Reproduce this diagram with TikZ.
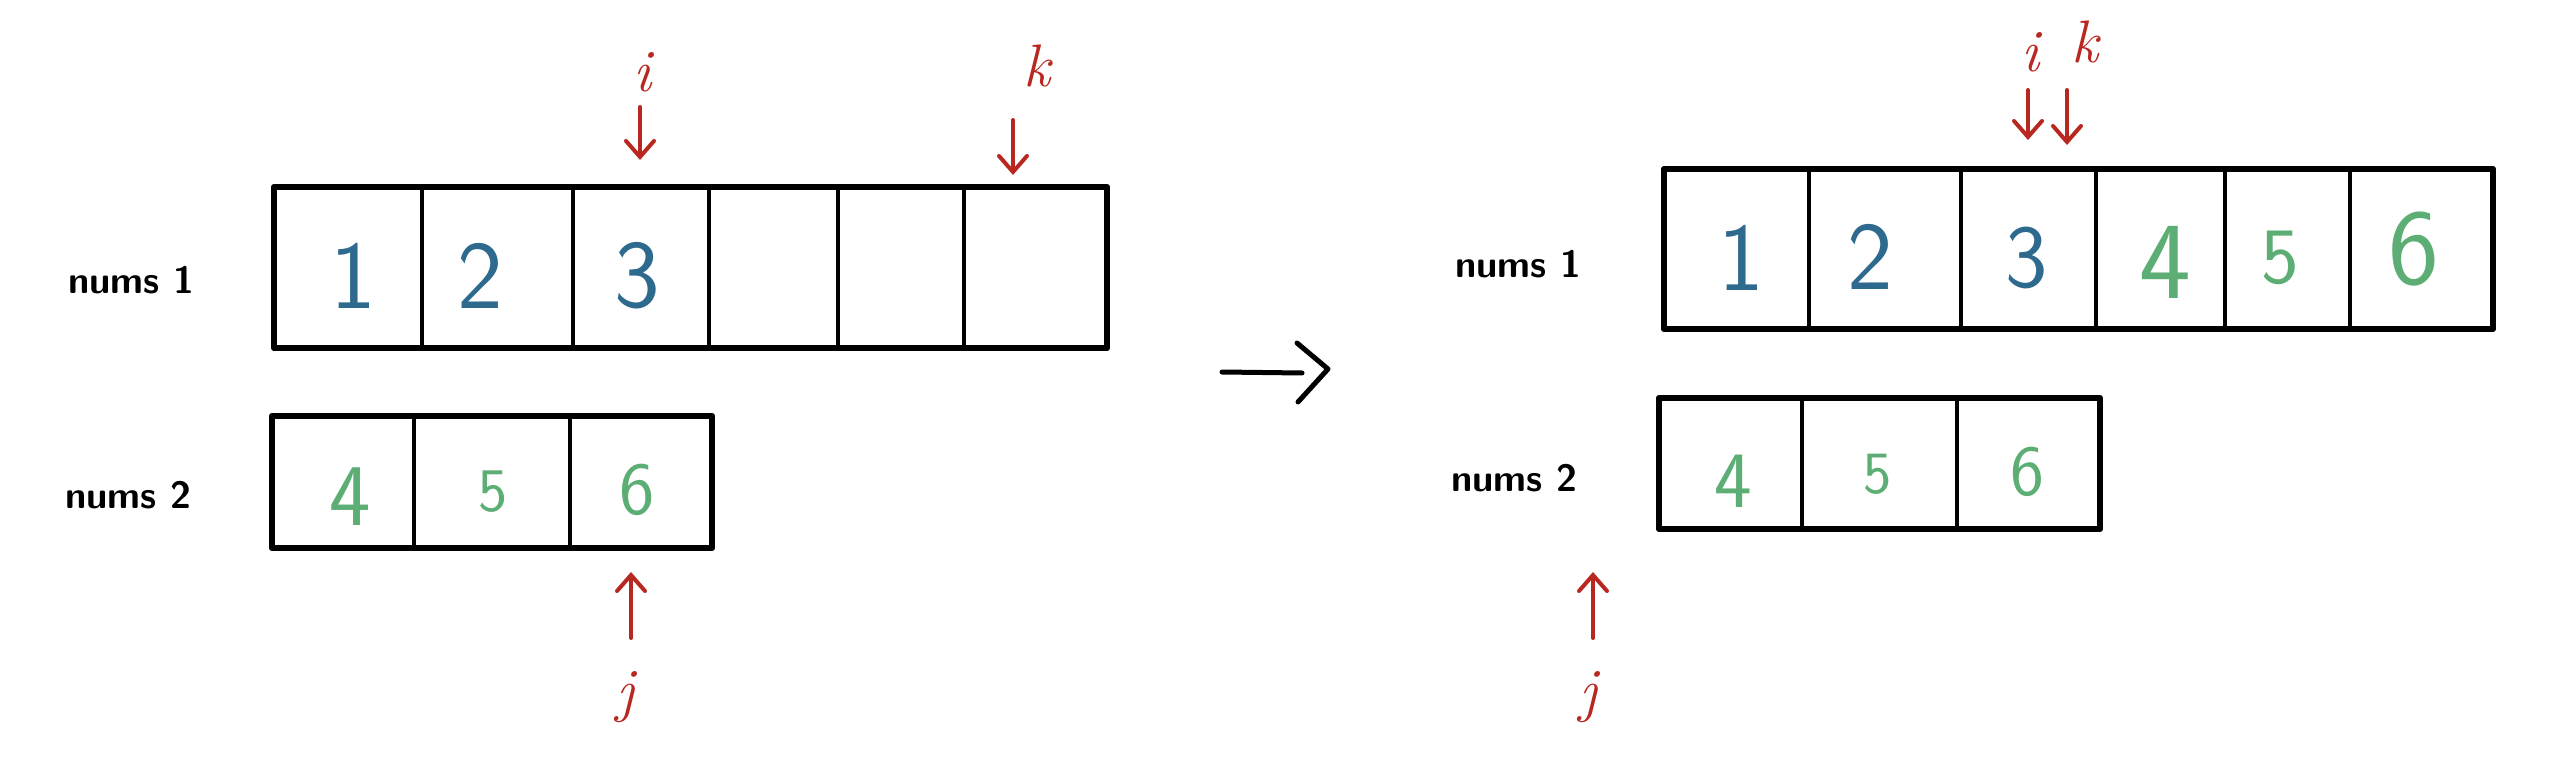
\documentclass[tikz,border=0pt]{standalone}
\usepackage{fontspec}
\usetikzlibrary{arrows.meta}
\definecolor{numblue}{HTML}{2D6A8E}
\definecolor{numgreen}{HTML}{5DAE74}
\definecolor{ptrred}{HTML}{B82720}
\newcommand{\dsz}[1]{\sffamily\fontsize{#1}{#1}\selectfont}
\begin{document}
\begin{tikzpicture}[x=1pt,y=-1pt,
  cell/.style={draw, line width=4pt, inner sep=0pt, outer sep=0pt, anchor=north west},
  frame/.style={draw, line width=6.5pt, line join=round},
  dig/.style={inner sep=0pt},
  lbl/.style={anchor=base west, inner sep=0pt, font=\sffamily\bfseries\fontsize{38}{40}\selectfont},
  ptrlbl/.style={inner sep=0pt, text=ptrred, font=\itshape\fontsize{60}{60}\selectfont},
  ptr/.style={draw=ptrred, line width=4pt, line cap=round, -{Straight Barb[length=16pt,width=28pt,line cap=round]}},
  bigarrow/.style={draw, line width=5pt, line cap=round, line join=round}]
\useasboundingbox (0,0) rectangle (2560,762);

% ---------- left: nums1 ----------
\node[lbl] (Ln1) at (68,293) {nums 1};
\node[cell, minimum width=148pt, minimum height=161pt] (A1) at (274,187) {};
\node[cell, minimum width=151pt, minimum height=161pt] (A2) at (422,187) {};
\node[cell, minimum width=136pt, minimum height=161pt] (A3) at (573,187) {};
\node[cell, minimum width=129pt, minimum height=161pt] (A4) at (709,187) {};
\node[cell, minimum width=126pt, minimum height=161pt] (A5) at (838,187) {};
\node[cell, minimum width=143pt, minimum height=161pt] (A6) at (964,187) {};
\draw[frame] (A1.north west) rectangle (A6.south east);
\node[dig, text=numblue, font={\dsz{97}}] (a1) at (353,276) {1};
\node[dig, text=numblue, font={\dsz{97}}] (a2) at (480,276) {2};
\node[dig, text=numblue, font={\dsz{97}}] (a3) at (637,276) {3};

% ---------- left: nums2 ----------
\node[lbl] (Ln2) at (65,508) {nums 2};
\node[cell, minimum width=142pt, minimum height=132pt] (B1) at (272,416) {};
\node[cell, minimum width=156pt, minimum height=132pt] (B2) at (414,416) {};
\node[cell, minimum width=142pt, minimum height=132pt] (B3) at (570,416) {};
\draw[frame] (B1.north west) rectangle (B3.south east);
\node[dig, text=numgreen, font={\dsz{88}}] (b1) at (350,497) {4};
\node[dig, text=numgreen, font={\dsz{62}}] (b2) at (493,492) {5};
\node[dig, text=numgreen, font={\dsz{75}}] (b3) at (637,490) {6};

% ---------- left pointers ----------
\node[ptrlbl] (Li) at (642,72) {i};
\node[ptrlbl] (Lk) at (1037,66) {k};
\node[ptrlbl] (Lj) at (625,697) {j};
\coordinate (Lia) at (640,107);
\coordinate (Lib) at (640,160);
\coordinate (Lka) at (1013,120);
\coordinate (Lkb) at (1013,175);
\coordinate (Lja) at (631,638);
\coordinate (Ljb) at (631,572);
\draw[ptr] (Lia) -- (Lib);
\draw[ptr] (Lka) -- (Lkb);
\draw[ptr] (Lja) -- (Ljb);

% ---------- middle arrow ----------
\coordinate (Ma) at (1222,372);
\coordinate (Mb) at (1302,373);
\coordinate (Mc) at (1297,343);
\coordinate (Md) at (1328,369);
\coordinate (Me) at (1298,402);
\draw[bigarrow] (Ma) -- (Mb);
\draw[bigarrow] (Mc) -- (Md) -- (Me);

% ---------- right: nums1 ----------
\node[lbl] (Rn1) at (1455,277) {nums 1};
\node[cell, minimum width=145pt, minimum height=160pt] (C1) at (1664,169) {};
\node[cell, minimum width=152pt, minimum height=160pt] (C2) at (1809,169) {};
\node[cell, minimum width=135pt, minimum height=160pt] (C3) at (1961,169) {};
\node[cell, minimum width=129pt, minimum height=160pt] (C4) at (2096,169) {};
\node[cell, minimum width=125pt, minimum height=160pt] (C5) at (2225,169) {};
\node[cell, minimum width=143pt, minimum height=160pt] (C6) at (2350,169) {};
\draw[frame] (C1.north west) rectangle (C6.south east);
\node[dig, text=numblue, font={\dsz{97}}] (c1) at (1741,258) {1};
\node[dig, text=numblue, font={\dsz{97}}] (c2) at (1870,257) {2};
\node[dig, text=numblue, font={\dsz{90}}] (c3) at (2027,258) {3};
\node[dig, text=numgreen, font={\dsz{110}}] (c4) at (2165,262) {4};
\node[dig, text=numgreen, font={\dsz{80}}] (c5) at (2280,258) {5};
\node[dig, text=numgreen, font={\dsz{108}}] (c6) at (2414,249) {6};

% ---------- right: nums2 ----------
\node[lbl] (Rn2) at (1451,491) {nums 2};
\node[cell, minimum width=143pt, minimum height=131pt] (D1) at (1659,398) {};
\node[cell, minimum width=155pt, minimum height=131pt] (D2) at (1802,398) {};
\node[cell, minimum width=143pt, minimum height=131pt] (D3) at (1957,398) {};
\draw[frame] (D1.north west) rectangle (D3.south east);
\node[dig, text=numgreen, font={\dsz{80}}] (d1) at (1733,481) {4};
\node[dig, text=numgreen, font={\dsz{60}}] (d2) at (1878,474) {5};
\node[dig, text=numgreen, font={\dsz{72}}] (d3) at (2027,472) {6};

% ---------- right pointers ----------
\node[ptrlbl] (Ri) at (2030,52) {i};
\node[ptrlbl] (Rk) at (2085,42) {k};
\node[ptrlbl] (Rj) at (1588,697) {j};
\coordinate (Ria) at (2028,90);
\coordinate (Rib) at (2028,140);
\coordinate (Rka) at (2067,90);
\coordinate (Rkb) at (2067,145);
\coordinate (Rja) at (1593,638);
\coordinate (Rjb) at (1593,572);
\draw[ptr] (Ria) -- (Rib);
\draw[ptr] (Rka) -- (Rkb);
\draw[ptr] (Rja) -- (Rjb);
\end{tikzpicture}
\end{document}
